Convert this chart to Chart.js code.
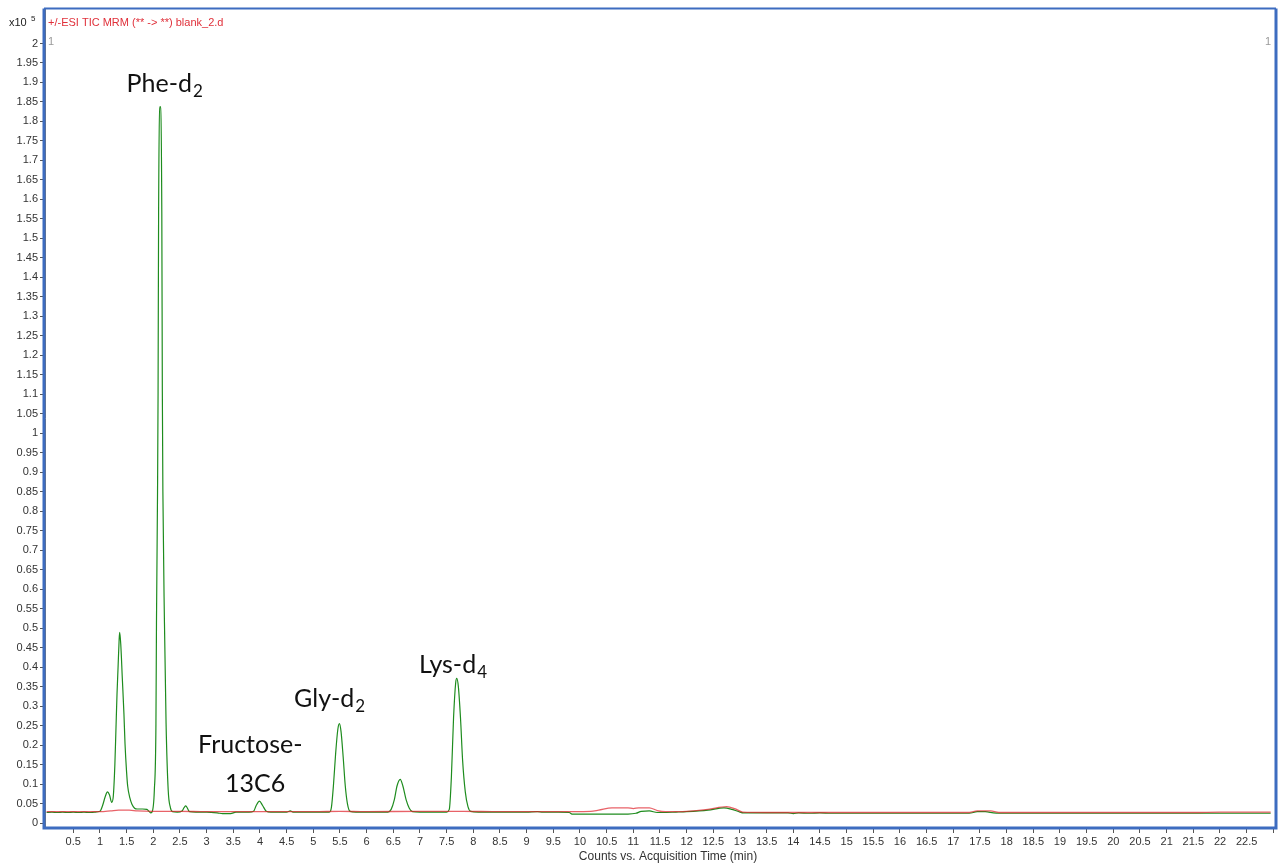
<!DOCTYPE html>
<html>
<head>
<meta charset="utf-8">
<script src="https://cdn.jsdelivr.net/npm/chart.js@4/dist/chart.umd.min.js"></script>
<style>
  html, body { margin: 0; padding: 0; background: #fff; }
  canvas { display: block; }
</style>
</head>
<body>
<canvas id="tic" width="1280" height="866"></canvas>
<script>
// TIC MRM trace, counts in units of 1e5 against acquisition time (min)
const greenTime = [
  0.00, 0.10, 0.20, 0.30, 0.40, 0.50, 0.60, 0.70, 0.80, 0.90,
  1.00, 1.05, 1.10, 1.14, 1.18, 1.22, 1.25, 1.28, 1.30, 1.32,
  1.34, 1.36, 1.37, 1.39, 1.42, 1.45, 1.47, 1.50, 1.52, 1.56,
  1.60, 1.65, 1.70, 1.80, 1.88, 1.92, 1.95, 1.975, 2.02, 2.05,
  2.06, 2.08, 2.09, 2.10, 2.13, 2.16, 2.17, 2.18, 2.21, 2.24,
  2.28, 2.32, 2.36, 2.45, 2.54, 2.58, 2.61, 2.64, 2.68, 2.80,
  3.00, 3.20, 3.30, 3.45, 3.55, 3.80, 3.88, 3.93, 3.99, 4.05,
  4.12, 4.20, 4.50, 4.57, 4.62, 5.00, 5.30, 5.34, 5.38, 5.42,
  5.46, 5.49, 5.52, 5.56, 5.60, 5.64, 5.69, 5.80, 6.40, 6.46,
  6.52, 6.57, 6.63, 6.68, 6.74, 6.80, 6.86, 7.00, 7.50, 7.55,
  7.59, 7.63, 7.67, 7.69, 7.72, 7.76, 7.80, 7.85, 7.90, 7.95,
  8.10, 8.50, 9.00, 9.20, 9.30, 9.60, 9.80, 9.85, 10.00, 10.50,
  10.90, 11.05, 11.15, 11.30, 11.45, 11.55, 11.80, 12.00, 12.40, 12.70,
  12.85, 13.00, 13.06, 13.50, 13.90, 14.00, 14.10, 14.30, 14.50, 14.70,
  15.00, 16.00, 17.00, 17.30, 17.45, 17.60, 17.75, 17.85, 18.00, 19.00,
  19.50, 20.00, 21.00, 22.00, 22.50, 22.95
];
const greenCounts = [
  0.027, 0.028, 0.027, 0.028, 0.027, 0.028, 0.027, 0.028, 0.027, 0.028,
  0.030, 0.045, 0.068, 0.080, 0.072, 0.053, 0.068, 0.150, 0.240, 0.330,
  0.400, 0.470, 0.489, 0.460, 0.370, 0.280, 0.204, 0.130, 0.095, 0.065,
  0.048, 0.038, 0.036, 0.036, 0.035, 0.030, 0.026, 0.028, 0.084, 0.255,
  0.511, 0.851, 1.106, 1.566, 1.838, 1.566, 1.106, 0.851, 0.511, 0.255,
  0.084, 0.040, 0.029, 0.028, 0.031, 0.040, 0.044, 0.038, 0.029, 0.028,
  0.028, 0.026, 0.024, 0.024, 0.028, 0.028, 0.030, 0.045, 0.056, 0.045,
  0.030, 0.028, 0.028, 0.031, 0.028, 0.028, 0.028, 0.040, 0.100, 0.180,
  0.240, 0.255, 0.235, 0.170, 0.095, 0.050, 0.030, 0.028, 0.028, 0.035,
  0.060, 0.095, 0.112, 0.095, 0.060, 0.038, 0.029, 0.028, 0.028, 0.035,
  0.120, 0.270, 0.360, 0.371, 0.350, 0.270, 0.160, 0.080, 0.042, 0.030,
  0.028, 0.028, 0.028, 0.029, 0.028, 0.028, 0.027, 0.023, 0.023, 0.023,
  0.023, 0.025, 0.030, 0.031, 0.027, 0.027, 0.028, 0.029, 0.033, 0.039,
  0.035, 0.028, 0.026, 0.026, 0.026, 0.024, 0.026, 0.025, 0.026, 0.025,
  0.025, 0.025, 0.025, 0.025, 0.029, 0.029, 0.026, 0.025, 0.025, 0.025,
  0.025, 0.025, 0.025, 0.025, 0.025, 0.025
];

// Second trace, close to the baseline
const redTime = [
  0.00, 0.50, 1.00, 1.20, 1.35, 1.55, 1.70, 2.00, 2.50, 3.00,
  4.00, 5.00, 5.50, 6.00, 7.00, 7.80, 8.50, 9.50, 10.20, 10.35,
  10.60, 10.90, 11.00, 11.10, 11.30, 11.45, 11.60, 12.00, 12.40, 12.75,
  12.90, 13.05, 13.50, 15.00, 17.30, 17.45, 17.70, 17.85, 20.00, 21.50,
  22.00, 22.50, 22.95
];
const redCounts = [
  0.029, 0.029, 0.029, 0.031, 0.033, 0.033, 0.031, 0.030, 0.030, 0.029,
  0.029, 0.029, 0.030, 0.029, 0.030, 0.030, 0.029, 0.029, 0.030, 0.033,
  0.039, 0.039, 0.037, 0.039, 0.039, 0.032, 0.029, 0.030, 0.035, 0.042,
  0.037, 0.028, 0.027, 0.027, 0.027, 0.031, 0.031, 0.027, 0.027, 0.027,
  0.028, 0.028, 0.028
];

const xTickLabels = [
  '0.5', '1', '1.5', '2', '2.5', '3', '3.5', '4', '4.5', '5', '5.5', '6', '6.5', '7', '7.5',
  '8', '8.5', '9', '9.5', '10', '10.5', '11', '11.5', '12', '12.5', '13', '13.5', '14', '14.5',
  '15', '15.5', '16', '16.5', '17', '17.5', '18', '18.5', '19', '19.5', '20', '20.5', '21',
  '21.5', '22', '22.5'
];
const yTickLabels = [
  '0', '0.05', '0.1', '0.15', '0.2', '0.25', '0.3', '0.35', '0.4', '0.45', '0.5', '0.55',
  '0.6', '0.65', '0.7', '0.75', '0.8', '0.85', '0.9', '0.95', '1', '1.05', '1.1', '1.15',
  '1.2', '1.25', '1.3', '1.35', '1.4', '1.45', '1.5', '1.55', '1.6', '1.65', '1.7', '1.75',
  '1.8', '1.85', '1.9', '1.95', '2'
];

// Compound labels placed at (time, counts) positions
const peakNames = [
  { main: 'Phe-d', sub: '2', t: 1.50, v: 1.875 },
  { main: 'Fructose-', sub: '', t: 2.84, v: 0.179 },
  { main: '13C6', sub: '', t: 3.345, v: 0.079 },
  { main: 'Gly-d', sub: '2', t: 4.64, v: 0.297 },
  { main: 'Lys-d', sub: '4', t: 6.98, v: 0.386 }
];

const AXIS_FONT = '"Liberation Sans", Arial, sans-serif';
const NAME_FONT = 'Lato, "Open Sans", sans-serif';

const pts = (ts, vs) => ts.map((t, i) => ({ x: t, y: vs[i] }));

const decorations = {
  id: 'decorations',
  afterDraw(chart) {
    const { ctx, chartArea: ca, scales } = chart;
    ctx.save();

    // blue plot frame
    ctx.strokeStyle = '#3d6cc0';
    ctx.lineWidth = 3;
    ctx.beginPath();
    ctx.moveTo(ca.left - 1, ca.top);
    ctx.lineTo(ca.left - 1, ca.bottom);
    ctx.lineTo(ca.right, ca.bottom);
    ctx.lineTo(ca.right, ca.top);
    ctx.stroke();
    ctx.lineWidth = 2;
    ctx.beginPath();
    ctx.moveTo(ca.left - 1, ca.top);
    ctx.lineTo(ca.right, ca.top);
    ctx.stroke();

    // exponent marker
    ctx.fillStyle = '#222';
    ctx.textBaseline = 'alphabetic';
    ctx.textAlign = 'left';
    ctx.font = '11px ' + AXIS_FONT;
    ctx.fillText('x10', 9, 26);
    ctx.font = '8px ' + AXIS_FONT;
    ctx.fillText('5', 31, 21);

    // trace header
    ctx.fillStyle = '#e0303a';
    ctx.font = '11px ' + AXIS_FONT;
    ctx.fillText('+/-ESI TIC MRM (** -> **) blank_2.d', ca.left + 3, 26);

    // pane numbers
    ctx.fillStyle = '#9a9a9a';
    ctx.fillText('1', ca.left + 3, 45);
    ctx.textAlign = 'right';
    ctx.fillText('1', ca.right - 5, 45);

    // x axis caption
    ctx.textAlign = 'center';
    ctx.fillStyle = '#333';
    ctx.font = '12px ' + AXIS_FONT;
    ctx.fillText('Counts vs. Acquisition Time (min)', 668, 860);

    // compound names
    ctx.textAlign = 'left';
    ctx.fillStyle = '#111';
    peakNames.forEach(p => {
      const x = scales.x.getPixelForValue(p.t);
      const y = scales.y.getPixelForValue(p.v);
      ctx.font = '25px ' + NAME_FONT;
      ctx.fillText(p.main, x, y);
      if (p.sub) {
        const w = ctx.measureText(p.main).width;
        ctx.font = '17px ' + NAME_FONT;
        ctx.fillText(p.sub, x + w + 1, y + 5);
      }
    });
    ctx.restore();
  }
};

new Chart(document.getElementById('tic'), {
  type: 'line',
  data: {
    datasets: [
      {
        label: 'TIC',
        data: pts(greenTime, greenCounts),
        borderColor: '#1e8c1e',
        borderWidth: 1.2,
        pointRadius: 0,
        cubicInterpolationMode: 'monotone',
        fill: false,
        order: 2
      },
      {
        label: 'baseline',
        data: pts(redTime, redCounts),
        borderColor: 'rgba(222, 32, 40, 0.7)',
        borderWidth: 1.3,
        pointRadius: 0,
        cubicInterpolationMode: 'monotone',
        fill: false,
        order: 1
      }
    ]
  },
  options: {
    responsive: false,
    animation: false,
    events: [],
    layout: { padding: { top: 6, right: 4, left: 0, bottom: 0 } },
    plugins: { legend: { display: false }, tooltip: { enabled: false } },
    scales: {
      x: {
        type: 'linear',
        min: -0.03,
        max: 23.05,
        afterFit(scale) { scale.height = 38; },
        afterBuildTicks(scale) {
          scale.ticks = xTickLabels.map(s => ({ value: parseFloat(s) }));
          scale.ticks.push({ value: 23 });
        },
        ticks: {
          autoSkip: false,
          maxRotation: 0,
          padding: 2,
          color: '#333',
          font: { family: AXIS_FONT, size: 11 },
          callback: (v, i) => (i < xTickLabels.length ? xTickLabels[i] : '')
        },
        grid: { drawOnChartArea: false, drawTicks: true, tickLength: 5, color: '#555' },
        border: { display: true, color: '#777' }
      },
      y: {
        type: 'linear',
        min: -0.0128,
        max: 2.0895,
        afterFit(scale) { scale.width = 45; },
        afterBuildTicks(scale) {
          scale.ticks = yTickLabels.map(s => ({ value: parseFloat(s) }));
        },
        ticks: {
          autoSkip: false,
          padding: 2,
          color: '#333',
          font: { family: AXIS_FONT, size: 11 },
          callback: (v, i) => yTickLabels[i]
        },
        grid: { drawOnChartArea: false, drawTicks: true, tickLength: 5, color: '#555' },
        border: { display: true, color: '#777' }
      }
    }
  },
  plugins: [decorations]
});
</script>
</body>
</html>
